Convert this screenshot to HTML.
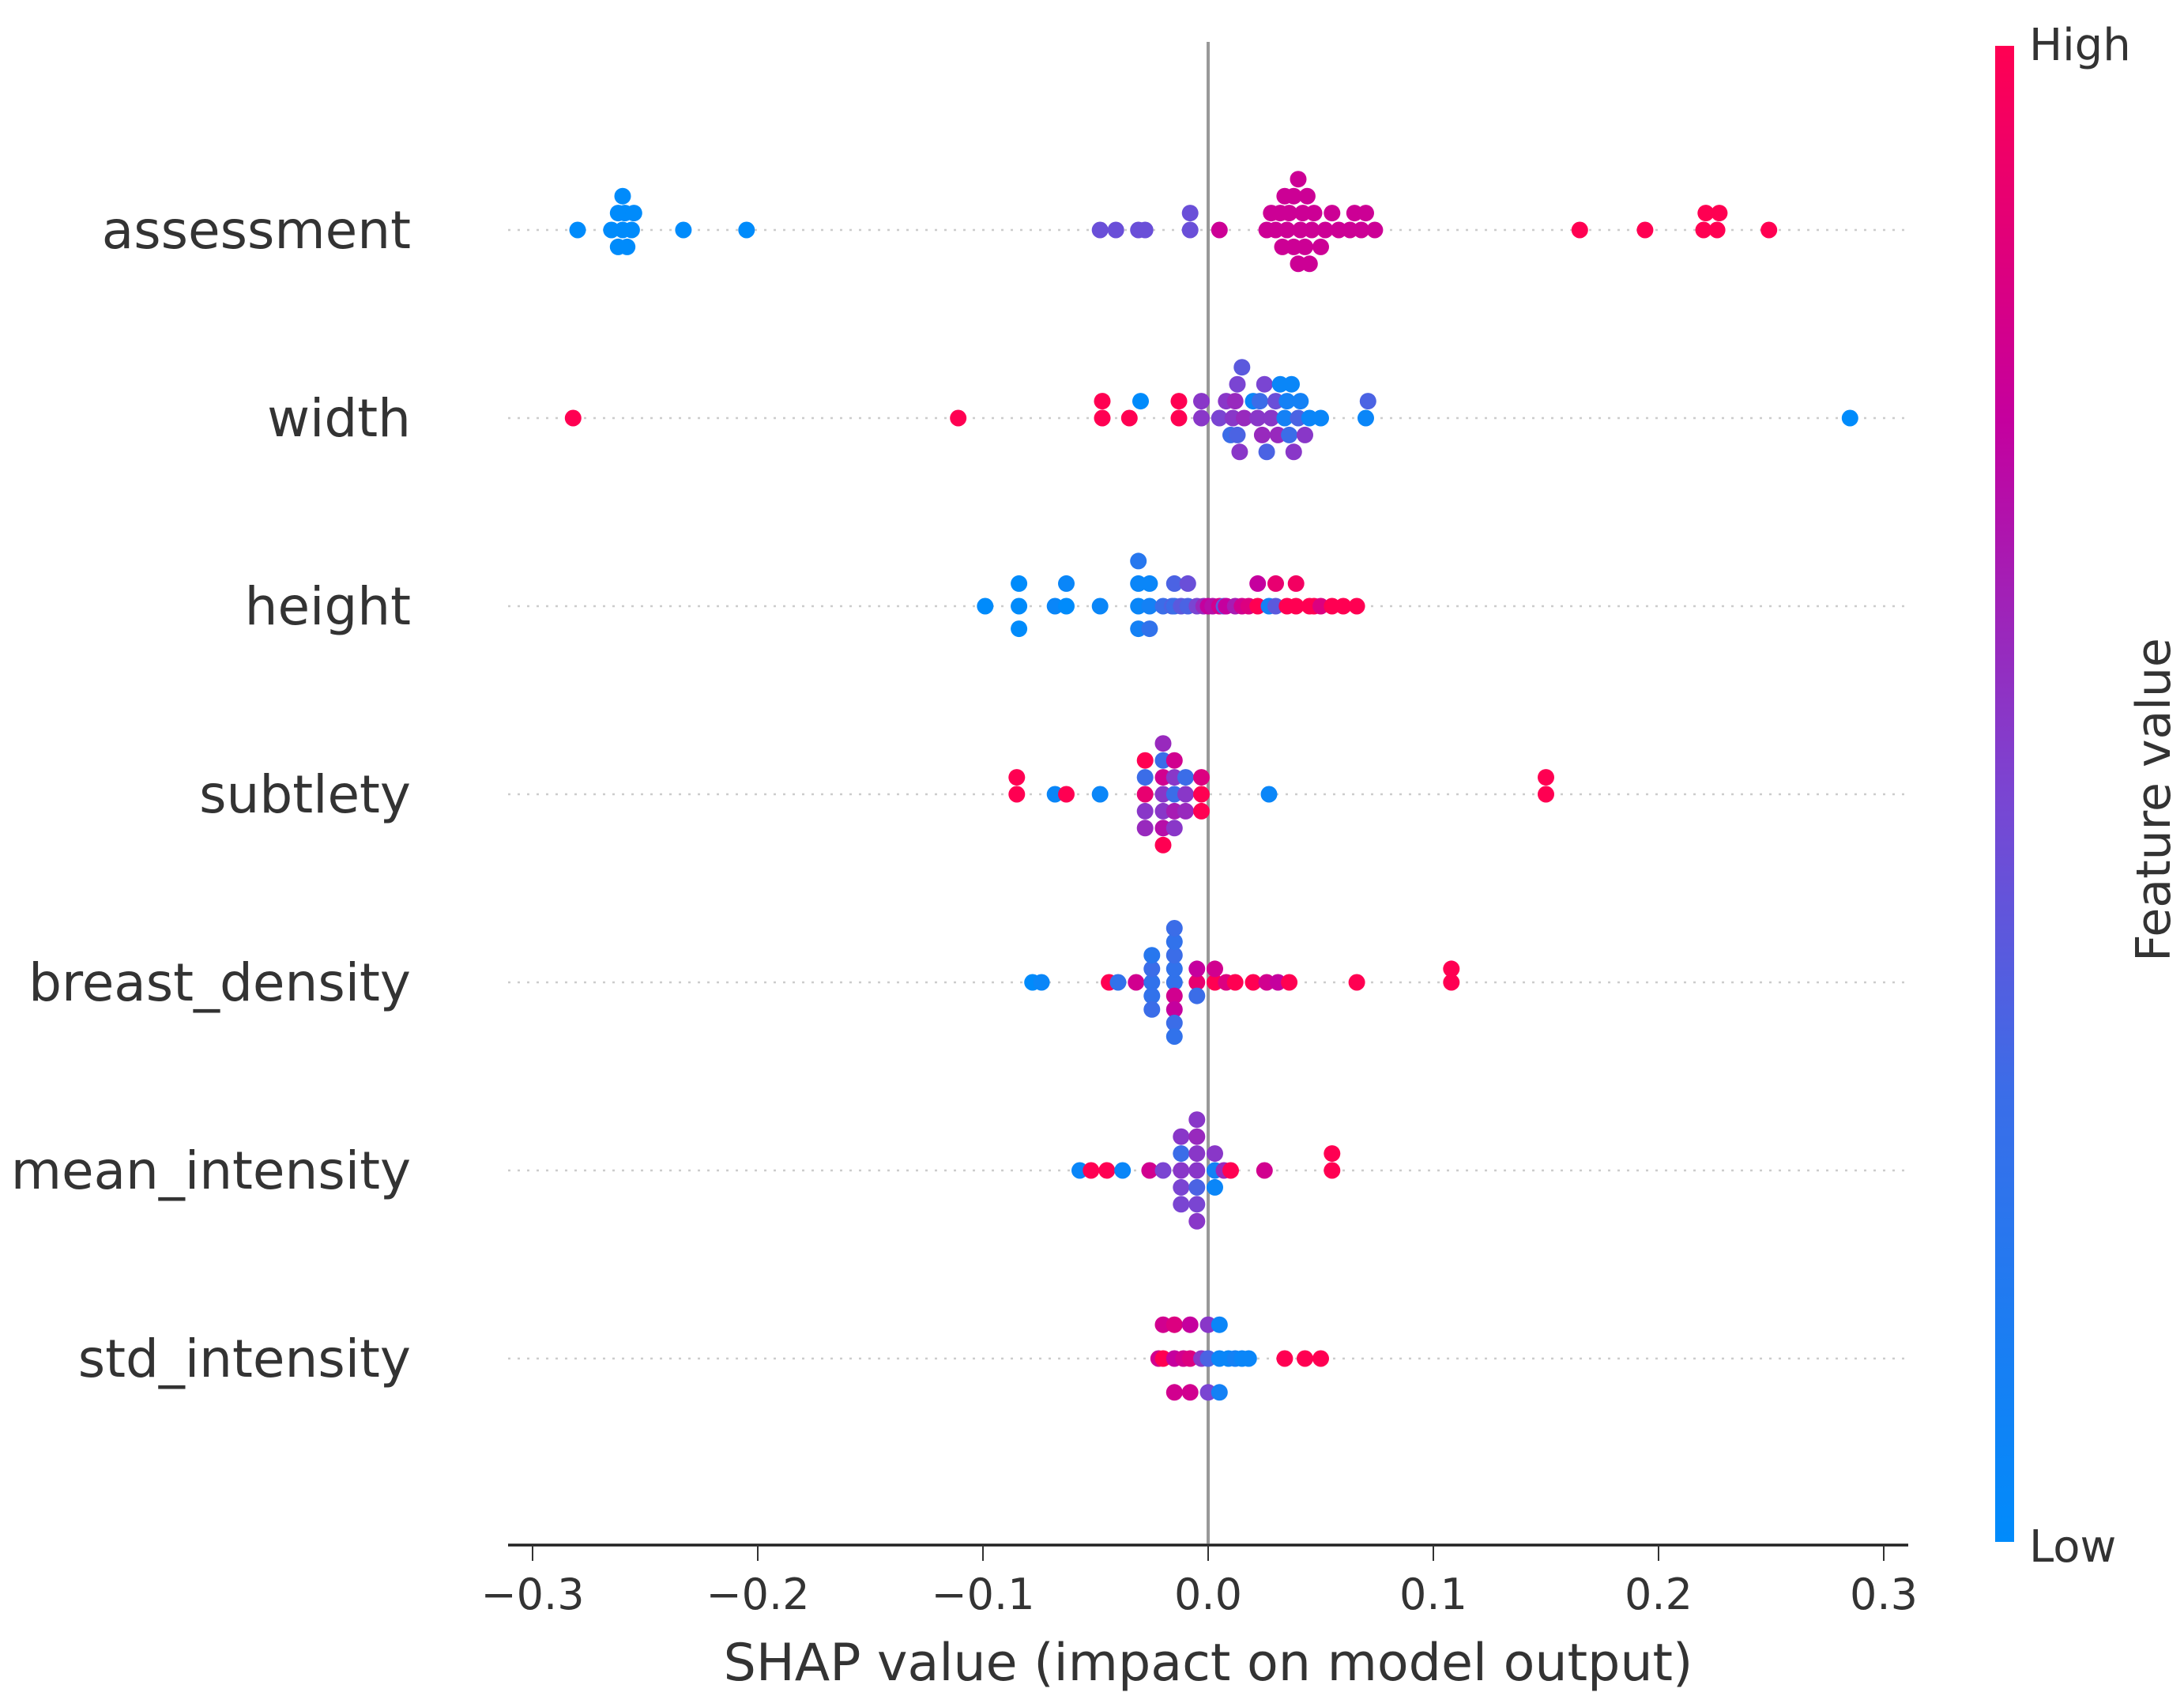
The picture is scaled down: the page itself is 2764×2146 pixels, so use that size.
<!DOCTYPE html>
<html><head><meta charset="utf-8">
<style>
html,body{margin:0;padding:0;background:#fff;}
svg{display:block;font-family:"DejaVu Sans","Liberation Sans",sans-serif;}
</style></head>
<body>
<svg id="chart" width="2764" height="2146" viewBox="0 0 2764 2146" xmlns="http://www.w3.org/2000/svg">
<defs>
<linearGradient id="cbgrad" x1="0" y1="1" x2="0" y2="0">
<stop offset="0" stop-color="#008bfb"/>
<stop offset="0.3" stop-color="#3b6de8"/>
<stop offset="0.5" stop-color="#7a45d2"/>
<stop offset="0.75" stop-color="#c5009e"/>
<stop offset="1" stop-color="#ff0052"/>
</linearGradient>
</defs>
<g id="rows"></g>
<line x1="1529" y1="53" x2="1529" y2="1953" stroke="#999" stroke-width="4"/>
<g id="dots"></g>
<g id="ylabels"></g>
<line x1="643" y1="1955" x2="2415" y2="1955" stroke="#222" stroke-width="3.5"/>
<g id="xticks"></g>
<text x="1529" y="2126" font-size="65" text-anchor="middle" fill="#333">SHAP value (impact on model output)</text>
<rect x="2525" y="58" width="24" height="1893" fill="url(#cbgrad)"/>
<text x="2568" y="76" font-size="56" fill="#333">High</text>
<text x="2568" y="1976" font-size="56" fill="#333">Low</text>
<text x="0" y="0" font-size="60" fill="#333" text-anchor="middle" transform="translate(2746,1012) rotate(-90)">Feature value</text>
</svg>
<script>
const features = ["assessment","width","height","subtlety","breast_density","mean_intensity","std_intensity"];
const tickValues = [-0.3,-0.2,-0.1,0.0,0.1,0.2,0.3];
const tickLabels = ["\u22120.3","\u22120.2","\u22120.1","0.0","0.1","0.2","0.3"];

const shapAssessment = [-0.28,-0.265,-0.262,-0.26,-0.259,-0.258,-0.256,-0.26,-0.262,-0.255,-0.233,-0.205,
 -0.048,-0.041,-0.031,-0.028,-0.008,-0.008,0.005,
 0.026,0.028,0.03,0.032,0.033,0.034,0.035,0.036,0.038,0.038,0.04,0.04,0.041,0.042,0.043,0.044,0.045,0.046,0.047,0.05,0.052,0.055,0.058,0.063,0.065,0.068,0.07,0.074,
 0.165,0.194,0.22,0.221,0.226,0.227,0.249];
const featAssessment = [0,0,0,0,0,0,0,0,0,0,0,0,
 0.45,0.45,0.45,0.45,0.45,0.45,0.78,
 0.78,0.78,0.78,0.78,0.78,0.78,0.78,0.78,0.78,0.78,0.78,0.78,0.78,0.78,0.78,0.78,0.78,0.78,0.78,0.78,0.78,0.78,0.78,0.78,0.78,0.78,0.78,0.78,
 1,1,1,1,1,1,1];

const shapWidth = [-0.282,-0.111,-0.047,-0.047,-0.035,-0.03,-0.013,-0.013,-0.003,-0.003,
 0.005,0.008,0.01,0.011,0.012,0.013,0.013,0.014,0.015,0.016,0.02,0.022,0.023,0.024,0.025,0.026,0.028,0.03,0.031,0.032,0.034,0.035,0.036,0.037,0.038,0.04,0.041,0.043,0.045,0.05,0.07,0.071,0.285];
const featWidth = [1,1,1,1,1,0,1,1,0.55,0.55,
 0.5,0.55,0.3,0.55,0.6,0.35,0.5,0.55,0.4,0.6,0.05,0.55,0.3,0.6,0.5,0.35,0.55,0.45,0.6,0.05,0.1,0.1,0.3,0.05,0.55,0.35,0.1,0.55,0.05,0.05,0.05,0.35,0];

const shapHeight = [-0.099,-0.084,-0.084,-0.084,-0.068,-0.063,-0.063,-0.048,
 -0.031,-0.031,-0.031,-0.031,-0.026,-0.026,-0.026,-0.02,-0.016,-0.015,-0.015,-0.012,-0.009,-0.009,-0.005,-0.002,0.0,0.002,0.005,0.007,0.008,0.012,0.015,0.018,0.022,0.022,0.027,0.03,0.03,0.035,0.039,0.039,0.045,0.047,0.05,0.055,0.06,0.066];
const featHeight = [0,0,0,0,0.05,0,0.05,0.05,
 0.05,0.05,0.1,0.2,0.1,0.05,0.25,0.3,0.35,0.3,0.35,0.4,0.35,0.45,0.5,0.6,0.75,0.7,0.8,0.4,0.75,0.65,0.8,0.85,1,0.75,0.1,0.4,0.9,1,1,0.95,1,1,0.85,1,1,1];

const shapSubtlety = [-0.085,-0.085,-0.068,-0.063,-0.048,
 -0.028,-0.028,-0.028,-0.028,-0.028,
 -0.02,-0.02,-0.02,-0.02,-0.02,-0.02,-0.02,
 -0.015,-0.015,-0.015,-0.015,-0.015,
 -0.01,-0.01,-0.01,-0.003,-0.003,-0.003,0.027,0.15,0.15];
const featSubtlety = [1,1,0.05,1,0.05,
 0.9,0.3,0.55,1,0.6,
 0.55,0.8,0.55,0.3,0.7,0.6,1,
 0.3,0.55,0.65,0.8,0.55,
 0.55,0.3,0.6,1,0.85,1,0.05,1,1];

const shapDensity = [-0.078,-0.074,-0.044,-0.04,-0.032,
 -0.025,-0.025,-0.025,-0.025,-0.025,
 -0.015,-0.015,-0.015,-0.015,-0.015,-0.015,-0.015,-0.015,-0.015,
 -0.005,-0.005,-0.005,0.003,0.003,0.008,0.012,0.02,0.026,0.031,0.036,0.066,0.108,0.108];
const featDensity = [0,0.05,1,0.25,0.8,
 0.25,0.3,0.25,0.2,0.3,
 0.25,0.25,0.8,0.3,0.75,0.25,0.3,0.3,0.25,
 0.9,0.75,0.3,1,0.8,0.85,1,1,0.8,0.75,1,1,1,1];

const shapMean = [-0.057,-0.052,-0.045,-0.038,-0.026,-0.02,
 -0.012,-0.012,-0.012,-0.012,-0.012,
 -0.005,-0.005,-0.005,-0.005,-0.005,-0.005,-0.005,
 0.003,0.003,0.003,0.007,0.01,0.025,0.055,0.055];
const featMean = [0.05,1,1,0.05,0.8,0.5,
 0.55,0.3,0.5,0.55,0.5,
 0.55,0.55,0.35,0.6,0.5,0.55,0.55,
 0.1,0.55,0.05,0.6,1,0.8,1,1];

const shapStd = [-0.022,-0.02,-0.02,-0.015,-0.015,-0.015,-0.011,
 -0.008,-0.008,-0.008,-0.003,0.0,0.0,0.0,
 0.005,0.005,0.005,0.009,0.012,0.015,0.018,0.034,0.043,0.05];
const featStd = [0.8,1,0.8,0.75,0.85,0.8,0.8,
 0.85,0.75,0.8,0.55,0.35,0.55,0.5,
 0.05,0.05,0.1,0.05,0.1,0.05,0.05,1,1,1];

const shapRows = [shapAssessment,shapWidth,shapHeight,shapSubtlety,shapDensity,shapMean,shapStd];
const featRows = [featAssessment,featWidth,featHeight,featSubtlety,featDensity,featMean,featStd];

const NS = "http://www.w3.org/2000/svg";
const X0 = 1529, XS = 2850, Y0 = 291, ROW = 238;
function xScale(v){ return X0 + v*XS; }
function yScale(i){ return Y0 + i*ROW; }
const stops = [[0,[0,139,251]],[0.3,[59,109,232]],[0.5,[122,69,210]],[0.75,[197,0,158]],[1,[255,0,82]]];
function colorOf(f){
  for(let k=0;k<stops.length-1;k++){
    const a=stops[k],b=stops[k+1];
    if(f<=b[0]){const t=(f-a[0])/(b[0]-a[0]);
      const c=a[1].map((v,j)=>Math.round(v+(b[1][j]-v)*t));
      return "rgb("+c.join(",")+")";}
  }
  return "rgb(255,0,82)";
}

const rowsG=document.getElementById("rows"), dotsG=document.getElementById("dots"),
      labG=document.getElementById("ylabels"), tickG=document.getElementById("xticks");

features.forEach((name,i)=>{
  const y=yScale(i);
  const l=document.createElementNS(NS,"line");
  l.setAttribute("x1",643);l.setAttribute("x2",2415);l.setAttribute("y1",y);l.setAttribute("y2",y);
  l.setAttribute("stroke","#ccc");l.setAttribute("stroke-width","2.5");l.setAttribute("stroke-dasharray","3 9");
  
  
  rowsG.appendChild(l);
  const t=document.createElementNS(NS,"text");
  t.setAttribute("x",520);t.setAttribute("y",y+23);t.setAttribute("font-size","66");
  t.setAttribute("text-anchor","end");t.setAttribute("fill","#333");
  t.textContent=name;
  
  
  labG.appendChild(t);

  const s=shapRows[i], f=featRows[i], n=s.length;
  const mn=Math.min(...s), mx=Math.max(...s);
  const quant=s.map(v=>Math.round(100*(v-mn)/(mx-mn+1e-8)));
  const inds=[...Array(n).keys()].sort((a,b)=>quant[a]-quant[b]||a-b);
  const ys=new Array(n).fill(0);
  let layer=0,last=-1;
  inds.forEach(k=>{ if(quant[k]!==last) layer=0;
    ys[k]=Math.ceil(layer/2)*((layer%2)*2-1); layer++; last=quant[k]; });
  const maxY=Math.max(...ys.map(Math.abs));
  const lane=0.36*ROW/(maxY+1);
  for(let k=0;k<n;k++){
    const c=document.createElementNS(NS,"circle");
    c.setAttribute("cx",xScale(s[k]).toFixed(1));
    c.setAttribute("cy",(y-ys[k]*lane).toFixed(1));
    c.setAttribute("r","10.5");
    c.setAttribute("fill",colorOf(f[k]));
    
    
    dotsG.appendChild(c);
  }
});

tickValues.forEach((v,i)=>{
  const x=xScale(v);
  const l=document.createElementNS(NS,"line");
  l.setAttribute("x1",x);l.setAttribute("x2",x);l.setAttribute("y1",1955);l.setAttribute("y2",1975);
  l.setAttribute("stroke","#333");l.setAttribute("stroke-width","2");
  
  
  tickG.appendChild(l);
  const t=document.createElementNS(NS,"text");
  t.setAttribute("x",x);t.setAttribute("y",2036);t.setAttribute("font-size","54");
  t.setAttribute("text-anchor","middle");t.setAttribute("fill","#333");
  t.textContent=tickLabels[i];
  
  
  tickG.appendChild(t);
});
</script>
</body></html>
